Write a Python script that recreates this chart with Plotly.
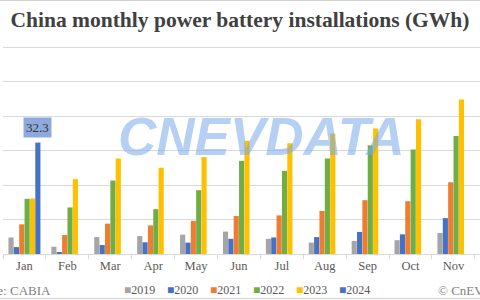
import plotly.graph_objects as go

months = ["Jan", "Feb", "Mar", "Apr", "May", "Jun", "Jul", "Aug", "Sep", "Oct", "Nov"]
years = ["2019", "2020", "2021", "2022", "2023", "2024"]
colors = ["#A5A5A5", "#4472C4", "#ED7D31", "#70AD47", "#FFC000", "#4472C4"]

v2019 = [4.8, 2.1, 4.9, 5.2, 5.6, 6.5, 4.4, 3.3, 3.8, 4.0, 6.1]
v2020 = [2.0, 0.5, 2.6, 3.4, 3.3, 4.4, 4.8, 4.9, 6.4, 5.7, 10.4]
v2021 = [8.6, 5.5, 8.8, 8.3, 9.6, 11.0, 11.2, 12.5, 15.6, 15.3, 20.8]
v2022 = [16.0, 13.5, 21.3, 13.0, 18.5, 27.0, 24.1, 27.7, 31.5, 30.3, 34.2]
v2023 = [16.1, 21.7, 27.7, 25.0, 28.1, 32.8, 32.1, 34.9, 36.4, 39.1, 44.8]
v2024 = [32.3, None, None, None, None, None, None, None, None, None, None]
series = [v2019, v2020, v2021, v2022, v2023, v2024]

W, H = 480, 300
ML, MR, MT, MB = 3, 0, 46, 46
PW = W - ML - MR
PH = H - MT - MB
BARGAP = 0.25
XMAX = 10.62

def px_x(px):
    return (px - ML) / PW

def px_y(py):
    return 1 - (py - MT) / PH

fig = go.Figure()
for name, vals, col in zip(years, series, colors):
    fig.add_trace(go.Bar(x=months, y=vals, name=name, marker_color=col,
                         marker_line_width=0, showlegend=False))

# data label on the single 2024 bar
n = len(years)
offset = (1 - BARGAP) * (-0.5 + (n - 0.5) / n)
fig.add_annotation(x=0 + offset, y=v2024[0], xref="x", yref="y", text="32.3",
                   showarrow=False, yanchor="bottom", yshift=5,
                   bgcolor="#8EA9DB", borderpad=2,
                   font=dict(family="Liberation Serif", size=13, color="#333333"))

# watermark
fig.add_annotation(x=px_x(261), y=px_y(136), xref="paper", yref="paper", text="CNEVDATA",
                   showarrow=False, xanchor="center", yanchor="middle",
                   font=dict(family="Liberation Sans", size=53, color="rgba(120,170,232,0.55)",
                             weight="bold", style="italic"))

# legend row
for i, (name, col) in enumerate(zip(years, colors)):
    fig.add_annotation(x=px_x(122 + i * 43), y=px_y(290), xref="paper", yref="paper",
                       text=f'<span style="color:{col}">■</span>{name}', showarrow=False,
                       xanchor="left", yanchor="middle",
                       font=dict(family="Liberation Serif", size=12, color="#595959"))

fig.add_annotation(x=px_x(53), y=px_y(290), xref="paper", yref="paper",
                   text="Source: CABIA", showarrow=False, xanchor="right", yanchor="middle",
                   font=dict(family="Liberation Serif", size=13, color="#7F7F7F"))
fig.add_annotation(x=px_x(436), y=px_y(290), xref="paper", yref="paper",
                   text="© CnEVPost", showarrow=False, xanchor="left", yanchor="middle",
                   font=dict(family="Liberation Serif", size=13, color="#7F7F7F"))

# frame lines at top and bottom of image
fig.add_shape(type="line", xref="paper", yref="paper", x0=px_x(0), x1=px_x(W),
              y0=px_y(0.5), y1=px_y(0.5), line=dict(color="#D0D0D0", width=1))
fig.add_shape(type="line", xref="paper", yref="paper", x0=px_x(0), x1=px_x(W),
              y0=px_y(298.5), y1=px_y(298.5), line=dict(color="#D0D0D0", width=1))

fig.update_layout(
    width=W, height=H,
    margin=dict(l=ML, r=MR, t=MT, b=MB),
    paper_bgcolor="white", plot_bgcolor="white",
    barmode="group", bargap=BARGAP, bargroupgap=0.04,
    title=dict(text="<b>China monthly power battery installations (GWh)</b>",
               x=0.5, xref="container", xanchor="center",
               y=1 - 19 / H, yref="container", yanchor="middle",
               font=dict(family="Liberation Serif", size=21.5, color="#404040")),
    xaxis=dict(range=[-0.5, XMAX], showline=True, linecolor="#D9D9D9", linewidth=1,
               ticks="outside", tickson="boundaries", ticklen=4, tickcolor="#D9D9D9",
               showgrid=False, tickfont=dict(family="Liberation Serif", size=12.5, color="#595959")),
    yaxis=dict(range=[0, 60.3], dtick=10, showticklabels=False, showgrid=True,
               gridcolor="#D9D9D9", gridwidth=1, zeroline=False, ticks=""),
)

fig.write_html("out.html")
